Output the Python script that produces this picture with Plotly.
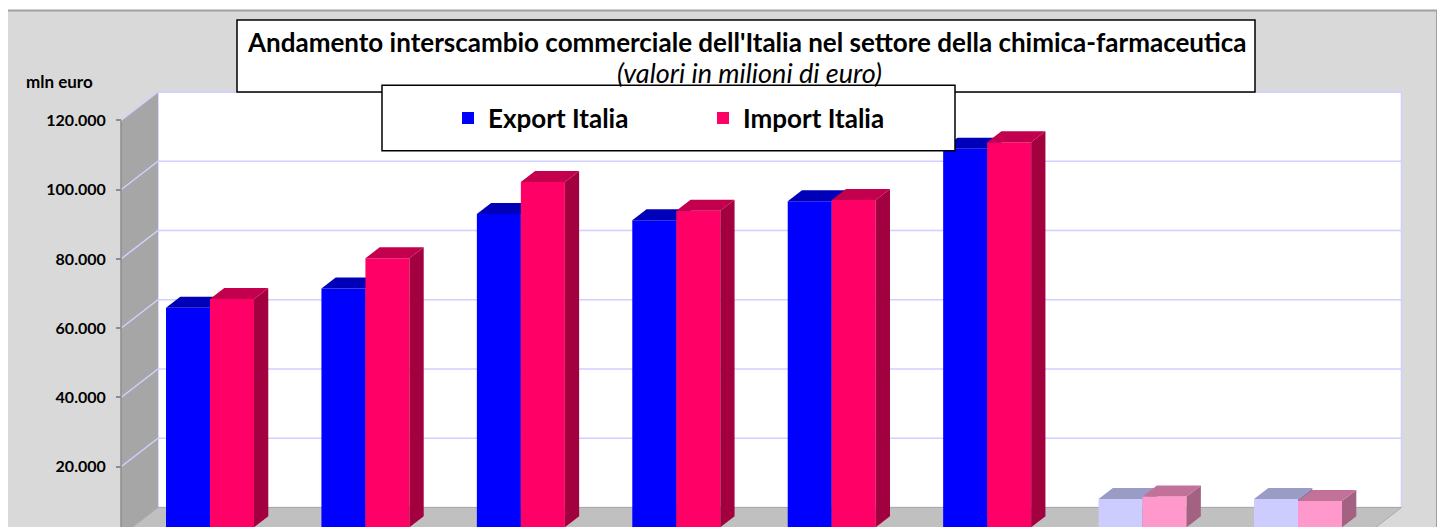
import plotly.graph_objects as go

# ---------------- data ----------------
categories = ["P1", "P2", "P3", "P4", "P5", "P6", "P7", "P8"]  # category labels fall outside the visible frame
export_italia = [63400, 69000, 90500, 88700, 94200, 109300, 8200, 8200]
import_italia = [65900, 77700, 99700, 91400, 94500, 111200, 8900, 7600]
y_ticks = [20000, 40000, 60000, 80000, 100000, 120000]
y_axis_max = 120000
series_names = ["Export Italia", "Import Italia"]
title_main = "Andamento interscambio commerciale dell'Italia nel settore della chimica-farmaceutica"
title_sub = "(valori in milioni di euro)"
unit_label = "mln euro"

# ---------------- geometry / style ----------------
W, H = 1445, 527
OFF = 8               # page body margin
FONT = "Lato"
U = 155.43            # px per category
X_C0 = 210.0 - OFF    # px of category 0 centre (bar plane)
PXK = 3.4625 / 1000   # px per value unit
Y0 = 527.3 - OFF      # px of value 0 (bar plane)
DEPTH_DX_PX, DEPTH_DY_PX = 37.0, 28.5
Z_BAR = 0.305
BAR_DEPTH = 0.386
BAR_W = 44.0 / U
N_FULL = 6  # first periods drawn with full colours, the rest lighter

x_range = [(0 - X_C0) / U, (W - X_C0) / U]
y_range = [(Y0 - H) / PXK, Y0 / PXK]
DX = DEPTH_DX_PX / U
DV = DEPTH_DY_PX / PXK


def proj(x, v, z):
    return (x + (z - Z_BAR) * DX, v + (z - Z_BAR) * DV)


def path(pts, close=True):
    s = "M " + " L ".join(f"{x:.5f},{y:.2f}" for x, y in pts)
    return s + (" Z" if close else "")


def px(xp):
    return (xp - OFF) / W


def py(yp):
    return 1 - (yp - OFF) / H


colors = {
    "Export Italia": {"full": ("#0000FF", "#0000B8", "#000090"),
                       "light": ("#CCCCFF", "#9A9CC6", "#8080B0")},
    "Import Italia": {"full": ("#FF0066", "#C2004E", "#A3003F"),
                       "light": ("#FF99CC", "#C27299", "#A36282")},
}
GRID = "#D0D0FF"

fig = go.Figure()

series = [export_italia, import_italia]
axes_y = ["y", "y2"]
offsets = [-BAR_W, 0.0]
bdx, bdv = BAR_DEPTH * DX, BAR_DEPTH * DV

for s_idx, (name, vals) in enumerate(zip(series_names, series)):
    front_cols = [colors[name]["full" if i < N_FULL else "light"][0] for i in range(len(vals))]
    fig.add_trace(go.Bar(
        x=list(range(len(vals))), y=vals, name=name,
        width=BAR_W, offset=offsets[s_idx],
        marker=dict(color=front_cols, line=dict(width=0)),
        yaxis=axes_y[s_idx], xaxis="x",
        hovertemplate=name + ": %{y:,.0f}<extra></extra>",
    ))
    for i, v in enumerate(vals):
        kind = "full" if i < N_FULL else "light"
        _, top_c, side_c = colors[name][kind]
        xl = i + offsets[s_idx]
        xr_ = xl + BAR_W
        top = [(xl, v), (xr_, v), (xr_ + bdx, v + bdv), (xl + bdx, v + bdv), (xl, v)]
        side = [(xr_, 0), (xr_, v), (xr_ + bdx, v + bdv), (xr_ + bdx, bdv), (xr_, 0)]
        for poly, col in ((side, side_c), (top, top_c)):
            fig.add_trace(go.Scatter(
                x=[p[0] for p in poly], y=[p[1] for p in poly],
                fill="toself", fillcolor=col, mode="lines",
                line=dict(width=0, color=col),
                yaxis=axes_y[s_idx], xaxis="x",
                showlegend=False, hoverinfo="skip",
            ))

# dummy trace so the front value axis is drawn
fig.add_trace(go.Scatter(x=[None], y=[None], yaxis="y3", showlegend=False, hoverinfo="skip"))

xl_w, xr_w = -0.5, len(categories) - 0.5
shapes = []
# chart area background
shapes.append(dict(type="rect", xref="paper", yref="paper", layer="below",
                   x0=px(6), x1=px(1437), y0=-0.2, y1=py(10.5),
                   fillcolor="#D9D9D9", line=dict(color="#A0A0A0", width=2)))
# back wall
back = [proj(xl_w, 0, 1), proj(xr_w, 0, 1), proj(xr_w, y_axis_max, 1), proj(xl_w, y_axis_max, 1)]
shapes.append(dict(type="path", xref="x", yref="y", layer="below", path=path(back),
                   fillcolor="#FFFFFF", line=dict(color=GRID, width=1.5)))
# side wall
side_w = [proj(xl_w, 0, 0), proj(xl_w, 0, 1), proj(xl_w, y_axis_max, 1), proj(xl_w, y_axis_max, 0)]
shapes.append(dict(type="path", xref="x", yref="y", layer="below", path=path(side_w),
                   fillcolor="#A6A6A6", line=dict(width=0)))
# floor
floor = [proj(xl_w, 0, 0), proj(xr_w, 0, 0), proj(xr_w, 0, 1), proj(xl_w, 0, 1)]
shapes.append(dict(type="path", xref="x", yref="y", layer="below", path=path(floor),
                   fillcolor="#C0C0C0", line=dict(color="#A8A8A8", width=1)))
# gridlines
for t in y_ticks:
    pts = [proj(xl_w, t, 0), proj(xl_w, t, 1), proj(xr_w, t, 1)]
    shapes.append(dict(type="path", xref="x", yref="y", layer="below", path=path(pts, close=False),
                       line=dict(color=GRID, width=1.5)))
# front value-axis line
a0, a1 = proj(xl_w, 0, 0), proj(xl_w, y_axis_max, 0)
shapes.append(dict(type="line", xref="x", yref="y", layer="below",
                   x0=a0[0], y0=a0[1], x1=a1[0], y1=a1[1], line=dict(color="#8C8C8C", width=1.5)))
# title box and legend box
shapes.append(dict(type="rect", xref="paper", yref="paper", layer="above",
                   x0=px(237), x1=px(1255), y0=py(92), y1=py(20),
                   fillcolor="#FFFFFF", line=dict(color="#000000", width=1.5)))
shapes.append(dict(type="rect", xref="paper", yref="paper", layer="above",
                   x0=px(382), x1=px(955), y0=py(150.7), y1=py(85.3),
                   fillcolor="#FFFFFF", line=dict(color="#000000", width=1.5)))

Y0F = Y0 + Z_BAR * DEPTH_DY_PX
y3_range = [(Y0F - H) / PXK, Y0F / PXK]
axis_pos = (a0[0] - x_range[0]) / (x_range[1] - x_range[0])

annotations = [
    dict(text="<b>" + title_main + "</b>", xref="paper", yref="paper", x=px(746.5), y=py(42),
         xanchor="center", yanchor="middle", showarrow=False,
         font=dict(family=FONT, size=26, color="#000000")),
    dict(text="<i>" + title_sub + "</i>", xref="paper", yref="paper", x=px(749.5), y=py(73),
         xanchor="center", yanchor="middle", showarrow=False,
         font=dict(family=FONT, size=27, color="#000000")),
    dict(text="<b>" + unit_label + "</b>", xref="paper", yref="paper", x=px(59), y=py(81),
         xanchor="center", yanchor="middle", showarrow=False,
         font=dict(family=FONT, size=17, color="#000000")),
]

fig.update_layout(
    width=W, height=H,
    margin=dict(l=0, r=0, t=0, b=0),
    paper_bgcolor="#FFFFFF", plot_bgcolor="rgba(0,0,0,0)",
    separators=",.",
    barmode="overlay",
    showlegend=True,
    legend=dict(orientation="h", x=px(448), y=py(118), xanchor="left", yanchor="middle",
                bgcolor="rgba(0,0,0,0)", borderwidth=0,
                font=dict(family=FONT, size=26, color="#000000", weight="bold"),
                entrywidth=210, entrywidthmode="pixels", traceorder="normal"),
    font=dict(family=FONT),
    xaxis=dict(range=x_range, visible=False, tickvals=list(range(len(categories))), ticktext=categories),
    yaxis=dict(range=y_range, visible=False),
    yaxis2=dict(range=y_range, overlaying="y", visible=False),
    yaxis3=dict(range=y3_range, overlaying="y", anchor="free", position=axis_pos, side="left",
                tickvals=y_ticks, tickformat=",.0f", ticks="outside", ticklen=5,
                tickcolor="#8C8C8C", tickwidth=1.5, ticklabelstandoff=7,
                tickfont=dict(family=FONT, size=16, color="#000000", weight="bold"),
                showgrid=False, zeroline=False, showline=False),
    shapes=shapes,
    annotations=annotations,
)

fig.write_html("out.html")
